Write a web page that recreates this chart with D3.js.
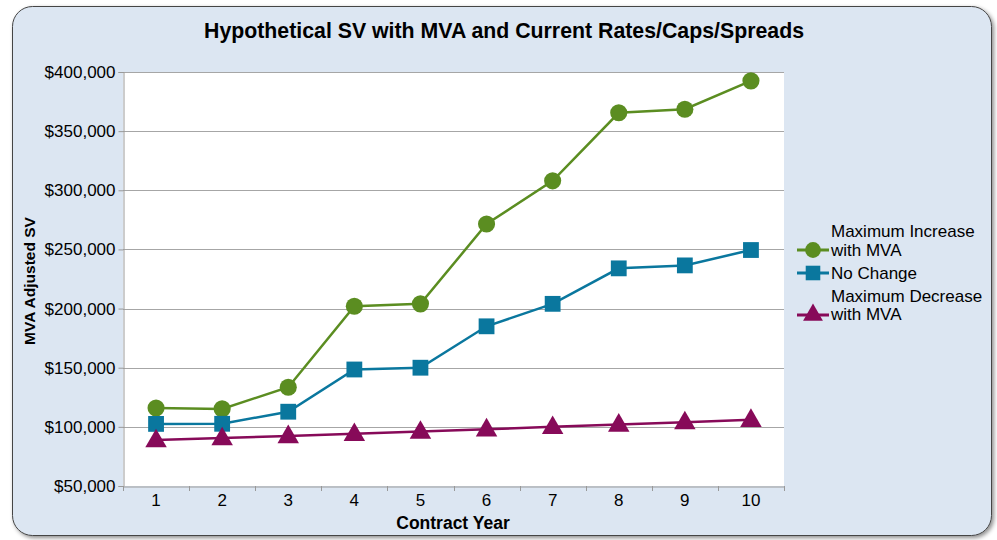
<!DOCTYPE html>
<html lang="en">
<head>
<meta charset="utf-8">
<title>Hypothetical SV</title>
<script src="https://d3js.org/d3.v7.min.js"></script>
<style>
body { margin: 0; background: #fff; }
text { font-family: "Liberation Sans", Arial, sans-serif; fill: #000; }
</style>
</head>
<body>
<script>
// data
var years = [1, 2, 3, 4, 5, 6, 7, 8, 9, 10];
var maxIncrease = [116000, 115200, 133500, 202000, 204000, 271500, 308000, 365500, 368500, 392500];
var noChange = [102500, 102600, 112800, 148500, 150000, 185000, 204000, 234000, 236500, 249500];
var maxDecrease = [88800, 90500, 92300, 94100, 96000, 98000, 100000, 102000, 104000, 106000];
var yTicks = [50000, 100000, 150000, 200000, 250000, 300000, 350000, 400000];
var seriesNames = ["Maximum Increase|with MVA", "No Change", "Maximum Decrease|with MVA"];

var w = 997, h = 540;
var pLeft = 123, pRight = 784, pTop = 72, pBottom = 486;

var svg = d3.select("body").append("svg").attr("width", w).attr("height", h);

// card background with shadow
var defs = svg.append("defs");
var f = defs.append("filter").attr("id", "sh").attr("x", "-5%").attr("y", "-5%").attr("width", "110%").attr("height", "110%");
f.append("feDropShadow").attr("dx", 2).attr("dy", 2).attr("stdDeviation", 2).attr("flood-color", "#000").attr("flood-opacity", 0.45);

svg.append("rect")
  .attr("x", 12.5).attr("y", 6.5).attr("width", 979).attr("height", 529)
  .attr("rx", 20).attr("ry", 20)
  .attr("fill", "#dce6f2").attr("stroke", "#444").attr("stroke-width", 1)
  .attr("filter", "url(#sh)");

svg.append("rect")
  .attr("x", pLeft).attr("y", pTop).attr("width", pRight - pLeft).attr("height", pBottom - pTop)
  .attr("fill", "#fff");

var x = d3.scaleBand().domain(years).range([pLeft, pRight]);
var y = d3.scaleLinear().domain([50000, 400000]).range([pBottom, pTop]);
var cx = function(d) { return x(d) + x.bandwidth() / 2; };

// gridlines
svg.append("g").selectAll("line").data(yTicks.slice(1)).enter().append("line")
  .attr("x1", pLeft).attr("x2", pRight)
  .attr("y1", function(d) { return Math.round(y(d)) + 0.5; })
  .attr("y2", function(d) { return Math.round(y(d)) + 0.5; })
  .attr("stroke", "#a6a6a6").attr("stroke-width", 1);

// y axis
var yAxis = svg.append("g").attr("transform", "translate(" + (pLeft + 0.5) + ",0)")
  .call(d3.axisLeft(y).tickValues(yTicks).tickSize(5).tickPadding(3)
    .tickFormat(function(d) { return "$" + d3.format(",")(d); }));
yAxis.select(".domain").attr("stroke", "#999");
yAxis.selectAll(".tick line").attr("stroke", "#999");
yAxis.selectAll("text").style("font-size", "17px").attr("fill", "#000");

// x axis
var xAxis = svg.append("g").attr("transform", "translate(0," + (pBottom + 0.5) + ")")
  .call(d3.axisBottom(x).tickSize(0).tickPadding(7));
xAxis.select(".domain").attr("stroke", "#999");
xAxis.selectAll("text").style("font-size", "17px").attr("fill", "#000");
svg.append("g").selectAll("line").data(d3.range(years.length + 1)).enter().append("line")
  .attr("x1", function(i) { return Math.round(pLeft + i * x.step()) + 0.5; })
  .attr("x2", function(i) { return Math.round(pLeft + i * x.step()) + 0.5; })
  .attr("y1", pBottom).attr("y2", pBottom + 5)
  .attr("stroke", "#999");

// titles
svg.append("text").attr("x", 504).attr("y", 38).attr("text-anchor", "middle")
  .style("font-size", "21.3px").style("font-weight", "bold")
  .text("Hypothetical SV with MVA and Current Rates/Caps/Spreads");
svg.append("text").attr("x", 453).attr("y", 529).attr("text-anchor", "middle")
  .style("font-size", "17.5px").style("font-weight", "bold").text("Contract Year");
svg.append("text").attr("transform", "translate(35,281) rotate(-90)").attr("text-anchor", "middle")
  .style("font-size", "15.5px").style("font-weight", "bold").text("MVA Adjusted SV");

var colors = ["#5b8d21", "#0a779e", "#870a59"];
var shapes = [d3.symbolCircle, d3.symbolSquare, d3.symbolTriangle];
var sizes = [230, 250, 200];
var allSeries = [maxIncrease, noChange, maxDecrease];

var line = d3.line().x(function(d, i) { return cx(years[i]); }).y(function(d) { return y(d); });

allSeries.forEach(function(s, k) {
  svg.append("path").datum(s).attr("d", line)
    .attr("fill", "none").attr("stroke", colors[k]).attr("stroke-width", 2.5);
});
allSeries.forEach(function(s, k) {
  svg.append("g").selectAll("path").data(s).enter().append("path")
    .attr("transform", function(d, i) { return "translate(" + cx(years[i]) + "," + (y(d) + (k == 2 ? 1 : 0)) + ")"; })
    .attr("d", d3.symbol().type(shapes[k]).size(sizes[k]))
    .attr("fill", colors[k]);
});

// legend
var legRows = [[231, 250], [273], [296, 314]];
var markY = [250, 273, 315];
seriesNames.forEach(function(name, k) {
  var g = svg.append("g");
  g.append("line").attr("x1", 797).attr("x2", 829).attr("y1", markY[k]).attr("y2", markY[k])
    .attr("stroke", colors[k]).attr("stroke-width", 3);
  g.append("path").attr("transform", "translate(813," + markY[k] + ")")
    .attr("d", d3.symbol().type(shapes[k]).size(sizes[k] * 0.85)).attr("fill", colors[k]);
  name.split("|").forEach(function(t, j) {
    g.append("text").attr("x", 831).attr("y", legRows[k][j] + 6)
      .style("font-size", "17px").text(t);
  });
});
</script>
</body>
</html>
